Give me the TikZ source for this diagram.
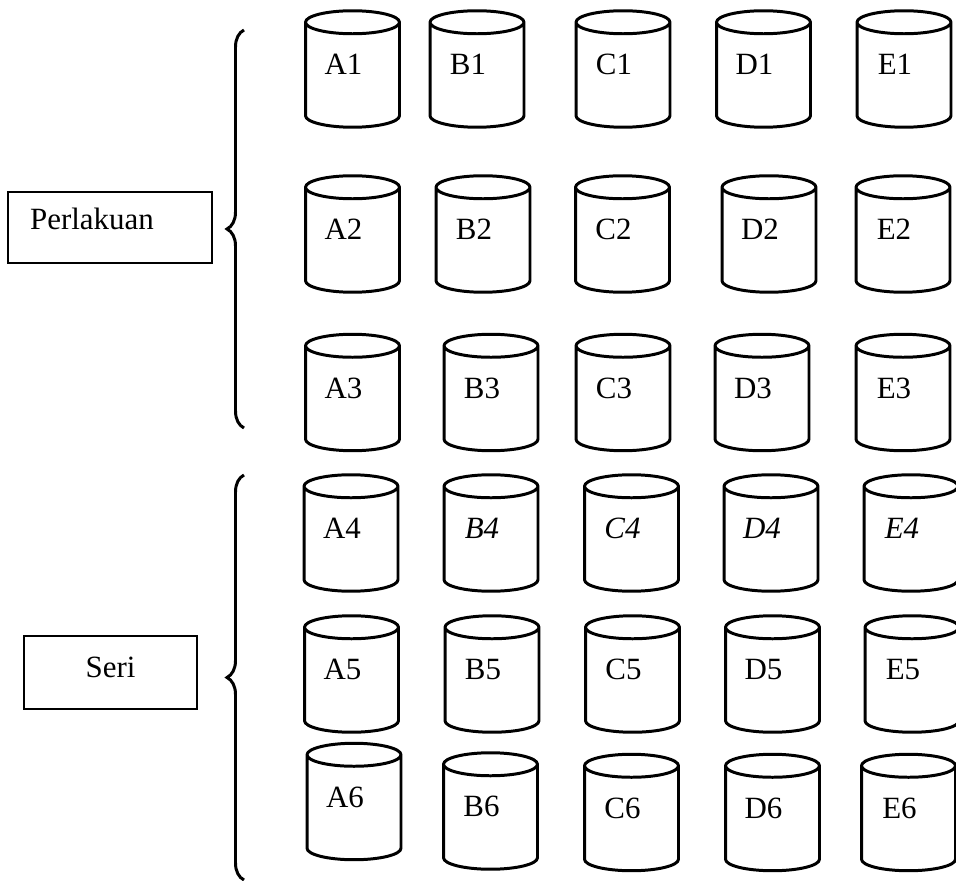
\documentclass[tikz,border=0pt]{standalone}
\usepackage{fontspec}
\setmainfont{Liberation Serif}
\usetikzlibrary{shapes.geometric,decorations.pathreplacing}

\tikzset{
  tub/.style={cylinder, shape border rotate=90, aspect=0.25, draw, line width=1.7pt,
    minimum width=1.88cm, minimum height=2.32cm, inner sep=0.92cm, outer sep=0pt,
    anchor=shape center},
  tubtext/.style={xshift=-0.18cm, yshift=0.33cm, inner sep=0pt},
  groupbox/.style={rectangle, draw, line width=1.4pt, inner sep=0pt},
  grouptext/.style={inner sep=0pt},
  bracket/.style={decorate, decoration={brace, amplitude=0.34cm}, line width=1.7pt}
}

\begin{document}
\begin{tikzpicture}[x=0.02cm, y=-0.02cm, font=\fontsize{17.6}{20}\selectfont]
\useasboundingbox (0,0) rectangle (956,881);

% group boxes
\node[groupbox, minimum width=4.08cm, minimum height=1.42cm, label={[grouptext, xshift=-0.36cm, yshift=0.17cm]center:Perlakuan}] (perlakuan) at (110,227.5) {};
\node[groupbox, minimum width=3.46cm, minimum height=1.46cm, label={[grouptext, yshift=0.1cm]center:Seri}] (seri) at (110.5,672.5) {};

% braces
\coordinate (p top) at (244,30);
\coordinate (p bot) at (244,428);
\coordinate (s top) at (244,475);
\coordinate (s bot) at (244,880);
\draw[bracket] (p bot) -- (p top);
\draw[bracket] (s bot) -- (s top);

% row 1
\node[tub, label={[tubtext]center:A1}] (a1) at (352.5,69) {};
\node[tub, label={[tubtext]center:B1}] (b1) at (477,69) {};
\node[tub, label={[tubtext]center:C1}] (c1) at (623,69) {};
\node[tub, label={[tubtext]center:D1}] (d1) at (763.5,69) {};
\node[tub, label={[tubtext]center:E1}] (e1) at (904,69) {};

% row 2
\node[tub, label={[tubtext]center:A2}] (a2) at (352.5,234) {};
\node[tub, label={[tubtext]center:B2}] (b2) at (483,234) {};
\node[tub, label={[tubtext]center:C2}] (c2) at (622.5,234) {};
\node[tub, label={[tubtext]center:D2}] (d2) at (769,234) {};
\node[tub, label={[tubtext]center:E2}] (e2) at (903,234) {};

% row 3
\node[tub, label={[tubtext]center:A3}] (a3) at (352.5,392.5) {};
\node[tub, label={[tubtext]center:B3}] (b3) at (491,392.5) {};
\node[tub, label={[tubtext]center:C3}] (c3) at (623,392.5) {};
\node[tub, label={[tubtext]center:D3}] (d3) at (762,392.5) {};
\node[tub, label={[tubtext]center:E3}] (e3) at (903,392.5) {};

% row 4
\node[tub, label={[tubtext]center:A4}] (a4) at (351,533) {};
\node[tub, label={[tubtext]center:\textit{B4}}] (b4) at (491,533) {};
\node[tub, label={[tubtext]center:\textit{C4}}] (c4) at (631.5,533) {};
\node[tub, label={[tubtext]center:\textit{D4}}] (d4) at (771,533) {};
\node[tub, label={[tubtext]center:\textit{E4}}] (e4) at (911,533) {};

% row 5
\node[tub, label={[tubtext]center:A5}] (a5) at (351.5,674) {};
\node[tub, label={[tubtext]center:B5}] (b5) at (492,674) {};
\node[tub, label={[tubtext]center:C5}] (c5) at (632.5,674) {};
\node[tub, label={[tubtext]center:D5}] (d5) at (772.5,674) {};
\node[tub, label={[tubtext]center:E5}] (e5) at (912,674) {};

% row 6
\node[tub, label={[tubtext]center:A6}] (a6) at (354,801.5) {};
\node[tub, label={[tubtext]center:B6}] (b6) at (490.5,811) {};
\node[tub, label={[tubtext]center:C6}] (c6) at (631.5,812.5) {};
\node[tub, label={[tubtext]center:D6}] (d6) at (772.5,812.5) {};
\node[tub, label={[tubtext]center:E6}] (e6) at (908.5,812.5) {};
\end{tikzpicture}
\end{document}
